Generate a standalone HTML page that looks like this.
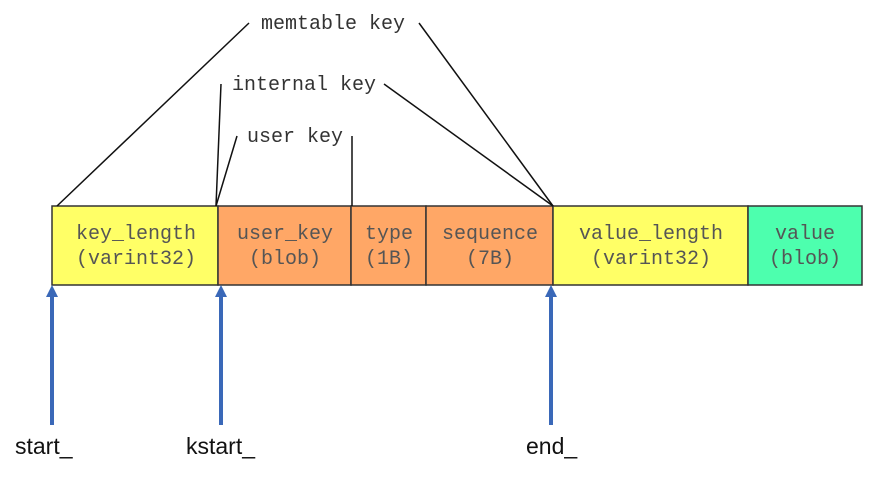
<!DOCTYPE html>
<html><head><meta charset="utf-8"><style>
body{margin:0;background:#fff;width:876px;height:472px;overflow:hidden}
</style></head><body>
<svg width="876" height="472" xmlns="http://www.w3.org/2000/svg">
<g stroke="#333" stroke-width="1.5">
<rect x="52" y="206" width="166" height="79" fill="#ffff66"/>
<rect x="218" y="206" width="133" height="79" fill="#ffa766"/>
<rect x="351" y="206" width="75" height="79" fill="#ffa766"/>
<rect x="426" y="206" width="127" height="79" fill="#ffa766"/>
<rect x="553" y="206" width="195" height="79" fill="#ffff66"/>
<rect x="748" y="206" width="114" height="79" fill="#4dffae"/>
</g>
<g stroke="#111" stroke-width="1.5" fill="none">
<line x1="57" y1="206" x2="249" y2="23"/>
<line x1="419" y1="23" x2="553" y2="206"/>
<line x1="216" y1="206" x2="221" y2="84"/>
<line x1="384" y1="84" x2="553" y2="206"/>
<line x1="216" y1="206" x2="237" y2="136"/>
<line x1="352" y1="136" x2="352" y2="206"/>
</g>
<g font-family="Liberation Mono, monospace" font-size="20" fill="#333">
<text x="333" y="29" text-anchor="middle">memtable key</text>
<text x="304" y="90" text-anchor="middle">internal key</text>
<text x="295" y="142" text-anchor="middle">user key</text>
</g>
<g font-family="Liberation Mono, monospace" font-size="20" fill="#555" text-anchor="middle">
<text x="136" y="239">key_length</text><text x="136" y="264">(varint32)</text>
<text x="285" y="239">user_key</text><text x="285" y="264">(blob)</text>
<text x="389" y="239">type</text><text x="389" y="264">(1B)</text>
<text x="490" y="239">sequence</text><text x="490" y="264">(7B)</text>
<text x="651" y="239">value_length</text><text x="651" y="264">(varint32)</text>
<text x="805" y="239">value</text><text x="805" y="264">(blob)</text>
</g>
<g fill="#3a68b8">
<rect x="50" y="295" width="4" height="130"/><polygon points="52,285 46,297 58,297"/>
<rect x="219" y="295" width="4" height="130"/><polygon points="221,285 215,297 227,297"/>
<rect x="549" y="295" width="4" height="130"/><polygon points="551,285 545,297 557,297"/>
</g>
<g font-family="Liberation Sans, sans-serif" font-size="23" fill="#111">
<text x="15" y="454">start_</text>
<text x="186" y="454">kstart_</text>
<text x="526" y="454">end_</text>
</g>
</svg>
</body></html>
